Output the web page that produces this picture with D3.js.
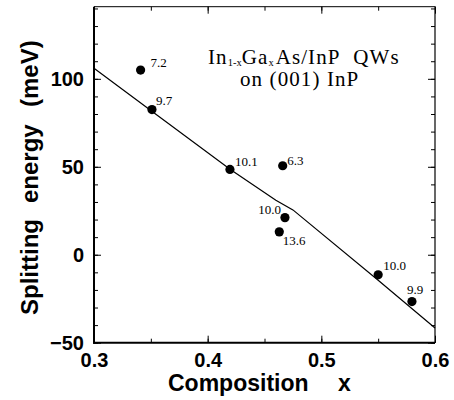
<!DOCTYPE html>
<html><head><meta charset="utf-8">
<script src="https://cdn.jsdelivr.net/npm/d3@7"></script>
<style>
body{margin:0;background:#fff;}
svg{display:block;}
.tick text{font-family:"Liberation Sans",Arial,sans-serif;font-weight:bold;font-size:20px;fill:#000;}
</style></head>
<body><svg id="c" width="454" height="400"></svg>
<script>
// Data
const composition = [0.341, 0.351, 0.4196, 0.466, 0.468, 0.463, 0.550, 0.5797];
const splitting   = [105, 82.5, 48.5, 50.6, 21.1, 13.0, -11.4, -26.6];
const wellLabels  = ["7.2", "9.7", "10.1", "6.3", "10.0", "13.6", "10.0", "9.9"];
const fitX = [0.30, 0.35, 0.42, 0.46, 0.475, 0.55, 0.60];
const fitY = [106, 82, 48.5, 31, 25.5, -14.5, -41.6];
const xTicks = [0.3, 0.4, 0.5, 0.6];
const yTicks = [-50, 0, 50, 100];

// Layout (label placement offsets, px)
const labelDx = [10, 4, 5, 4.5, -4, 3.5, 5, -5];
const labelDy = [-3, -5, -3, -1, -4, 12.7, -5, -8];
const labelAnchor = ["start","start","start","start","end","start","start","start"];

const L = 94, R = 435, T = 6.7, B = 342.7;
const svg = d3.select("#c");
const x = d3.scaleLinear().domain([0.3, 0.6]).range([L, R]);
const y = d3.scaleLinear().domain([-50, 141]).range([B, T]);

const xMinor = d3.range(0.3, 0.6001, 0.05);
const yMinor = d3.range(-50, 141, 10);
const fmtX = d3.format(".1f");
const SANS = "'Liberation Sans',Arial,sans-serif";
const SERIF = "'Liberation Serif','Times New Roman',serif";

function axis(gen, tr, vals, size, fmt, pad){
  svg.append("g").attr("transform", tr)
    .call(gen.tickValues(vals).tickSize(size).tickPadding(pad||3).tickFormat(fmt||""))
    .call(g => g.select(".domain").remove());
}
axis(d3.axisBottom(x), `translate(0,${B})`, xMinor, -4);
axis(d3.axisBottom(x), `translate(0,${B})`, xTicks, -7, fmtX, 10);
axis(d3.axisTop(x), `translate(0,${T})`, xMinor, -4);
axis(d3.axisTop(x), `translate(0,${T})`, xTicks, -7);
axis(d3.axisLeft(y), `translate(${L},0)`, yMinor, -4);
axis(d3.axisLeft(y), `translate(${L},0)`, yTicks, -7, d3.format("d"), 10);
axis(d3.axisRight(y), `translate(${R},0)`, yMinor, -4);
axis(d3.axisRight(y), `translate(${R},0)`, yTicks, -7);

svg.selectAll(".tick line").attr("stroke", "#000").attr("stroke-width", 1);

// frame
svg.append("line").attr("x1", L).attr("x2", R).attr("y1", T).attr("y2", T).attr("stroke","#000").attr("stroke-width",1);
svg.append("line").attr("x1", R).attr("x2", R).attr("y1", T).attr("y2", B).attr("stroke","#000").attr("stroke-width",1.2);
svg.append("line").attr("x1", L).attr("x2", L).attr("y1", T).attr("y2", B+1).attr("stroke","#000").attr("stroke-width",2);
svg.append("line").attr("x1", L-1).attr("x2", R).attr("y1", B).attr("y2", B).attr("stroke","#000").attr("stroke-width",2);

// fit line
const fit = fitX.map((v,i)=>[v, fitY[i]]);
svg.append("path").datum(fit)
  .attr("d", d3.line().x(d=>x(d[0])).y(d=>y(d[1])))
  .attr("fill","none").attr("stroke","#000").attr("stroke-width",1.2);

// points
const pts = composition.map((v,i)=>({x:v, y:splitting[i], t:wellLabels[i], dx:labelDx[i], dy:labelDy[i], a:labelAnchor[i]}));
svg.append("g").selectAll("circle").data(pts).join("circle")
  .attr("cx", d=>x(d.x)).attr("cy", d=>y(d.y)).attr("r", 4.6).attr("fill","#000");
svg.append("g").selectAll("text").data(pts).join("text")
  .attr("x", d=>x(d.x)+d.dx).attr("y", d=>y(d.y)+d.dy)
  .attr("text-anchor", d=>d.a)
  .attr("font-family", SERIF)
  .attr("font-size", 13).text(d=>d.t);

// annotation
const ann = svg.append("text").attr("x", 208).attr("y", 63.5)
  .attr("font-family", SERIF).attr("font-size", 21).attr("letter-spacing", 1.1);
ann.append("tspan").text("In");
ann.append("tspan").attr("font-size", 10.5).attr("dy", 2).attr("letter-spacing", 0).text("1-x");
ann.append("tspan").attr("dy", -2).text("Ga");
ann.append("tspan").attr("font-size", 10.5).attr("dy", 2).attr("letter-spacing", 0).text("x");
ann.append("tspan").attr("dy", -2).attr("dx", 2).text("As/InP\u00a0\u00a0QWs");
svg.append("text").attr("x", 240).attr("y", 86)
  .attr("font-family", SERIF).attr("font-size", 21).attr("letter-spacing", 1.1)
  .text("on (001) InP");

// axis titles
const xt = svg.append("g").attr("font-family", SANS).attr("font-weight","bold").attr("font-size", 23);
xt.append("text").attr("x", 168).attr("y", 391).text("Composition");
xt.append("text").attr("x", 338).attr("y", 391).text("x");

const yt = svg.append("g").attr("font-family", SANS).attr("font-weight","bold").attr("font-size", 24);
[["Splitting", 315], ["energy", 203], ["(meV)", 107]].forEach(([t, pos]) => {
  yt.append("text").attr("transform", `translate(38,${pos}) rotate(-90)`).text(t);
});
</script></body></html>
